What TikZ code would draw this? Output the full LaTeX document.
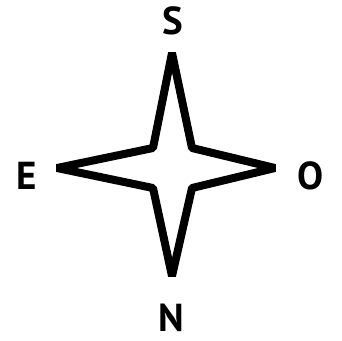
\documentclass[tikz,border=0pt]{standalone}
\usepackage{fontspec}
\setmainfont{PT Sans}
\begin{document}
\begin{tikzpicture}[x=1pt,y=-1pt,
  starline/.style={line width=8pt,line join=bevel,draw=black},
  lbl/.style={font=\fontsize{39}{42}\selectfont\bfseries,inner sep=0pt,anchor=center}]
\useasboundingbox (0,0) rectangle (342,340);
\coordinate (t) at (172,53);
\coordinate (ur) at (192,148);
\coordinate (r) at (275,168);
\coordinate (lr) at (192,188);
\coordinate (b) at (172,276);
\coordinate (ll) at (153,188);
\coordinate (l) at (57,168);
\coordinate (ul) at (153,148);
\draw[starline] (t) -- (ur) -- (r) -- (lr) -- (b) -- (ll) -- (l) -- (ul) -- cycle;
\node[lbl] (S) at (173,21) {S};
\node[lbl] (E) at (27,176) {E};
\node[lbl] (O) at (311,176) {O};
\node[lbl] (N) at (171,318) {N};
\end{tikzpicture}
\end{document}
